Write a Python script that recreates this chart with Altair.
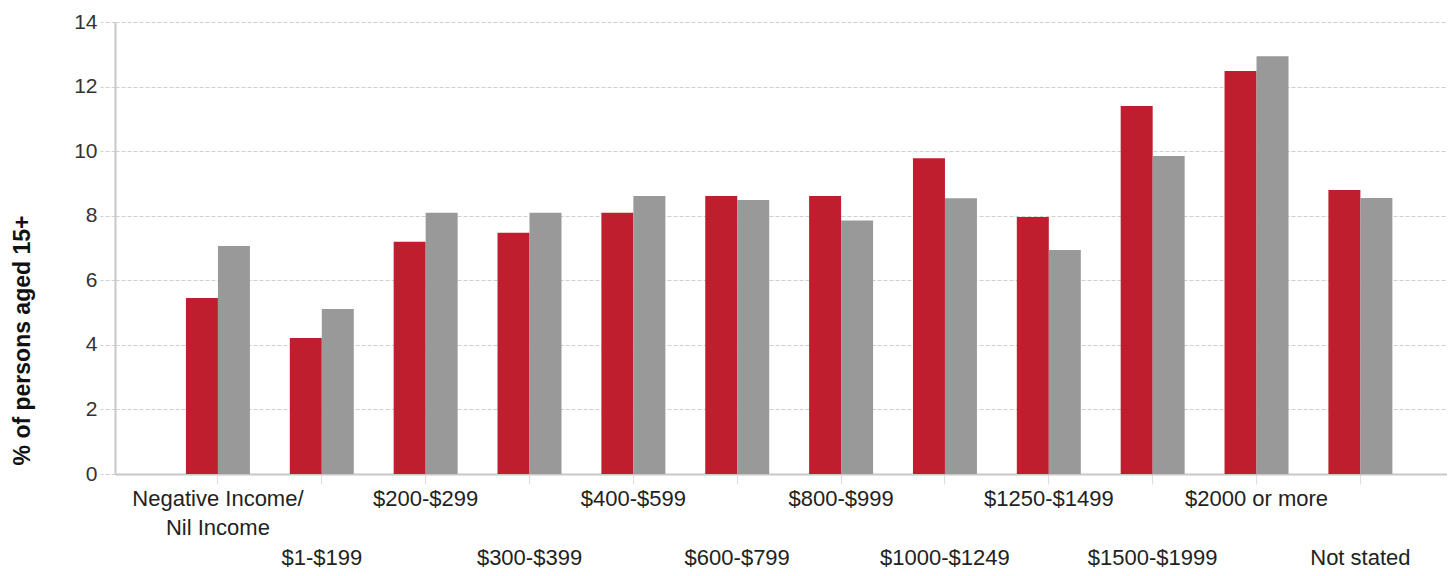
import altair as alt
import pandas as pd

categories = [
    "Negative Income/ Nil Income", "$1-$199", "$200-$299", "$300-$399",
    "$400-$599", "$600-$799", "$800-$999", "$1000-$1249",
    "$1250-$1499", "$1500-$1999", "$2000 or more", "Not stated",
]
series_names = ["Selected area", "Australia"]
area_values = [5.45, 4.21, 7.19, 7.47, 8.09, 8.61, 8.61, 9.78, 7.96, 11.40, 12.48, 8.80]
aus_values = [7.06, 5.11, 8.09, 8.09, 8.61, 8.49, 7.85, 8.54, 6.94, 9.85, 12.94, 8.55]
y_ticks = [0, 2, 4, 6, 8, 10, 12, 14]
series_colors = ["#BE1E2D", "#999999"]

rows = []
for c, a, b in zip(categories, area_values, aus_values):
    rows.append({"category": c, "series": series_names[0], "value": a})
    rows.append({"category": c, "series": series_names[1], "value": b})
df = pd.DataFrame(rows)

lower_row = categories[1::2]
lower_test = "indexof([" + ",".join("'%s'" % c for c in lower_row) + "], datum.value) >= 0"
label_expr = (
    "datum.value == 'Negative Income/ Nil Income' ? "
    "['Negative Income/', 'Nil Income'] : datum.label"
)

x_axis = alt.Axis(
    title=None,
    labelAngle=0,
    labelAlign="center",
    labelBaseline="top",
    labelFont="Liberation Sans",
    labelFontSize=22,
    labelColor="#222222",
    labelLineHeight=29,
    labelLimit=400,
    labelOverlap=False,
    labelExpr=label_expr,
    labelPadding={"condition": {"test": lower_test, "value": 63}, "value": 4},
    tickSize=10,
    tickColor="#dedede",
    domainColor="#c8c8c8",
    domainWidth=2,
)

y_axis = alt.Axis(
    values=y_ticks,
    title="% of persons aged 15+",
    titleFont="Liberation Sans",
    titleFontSize=23,
    titleFontWeight="bold",
    titleColor="#111111",
    titleAngle=270,
    titleAlign="center",
    titleBaseline="middle",
    titleX=-93,
    titleY=318,
    labelFont="Liberation Sans",
    labelFontSize=21,
    labelColor="#333333",
    labelPadding=3,
    tickSize=15,
    tickColor="#cfcfcf",
    tickDash=[4, 2],
    grid=True,
    gridColor="#cfcfcf",
    gridDash=[4, 2],
    domainColor="#c8c8c8",
    domainWidth=2,
)

chart = (
    alt.Chart(df)
    .mark_bar()
    .encode(
        x=alt.X(
            "category:N",
            sort=categories,
            scale=alt.Scale(paddingInner=0.384, paddingOuter=0.6045, align=0.565),
            axis=x_axis,
        ),
        xOffset=alt.XOffset(
            "series:N",
            sort=series_names,
            scale=alt.Scale(paddingInner=0, paddingOuter=0),
        ),
        y=alt.Y("value:Q", scale=alt.Scale(domain=[0, 14], nice=False), axis=y_axis),
        color=alt.Color(
            "series:N",
            scale=alt.Scale(domain=series_names, range=series_colors),
            legend=None,
        ),
    )
    .properties(
        width=1332,
        height=452,
        autosize=alt.AutoSizeParams(type="none"),
        padding={"left": 107, "top": 14, "right": 0, "bottom": 94},
    )
    .configure_view(stroke=None)
)

chart.save("out.html", embed_options={"renderer": "svg", "actions": False})
